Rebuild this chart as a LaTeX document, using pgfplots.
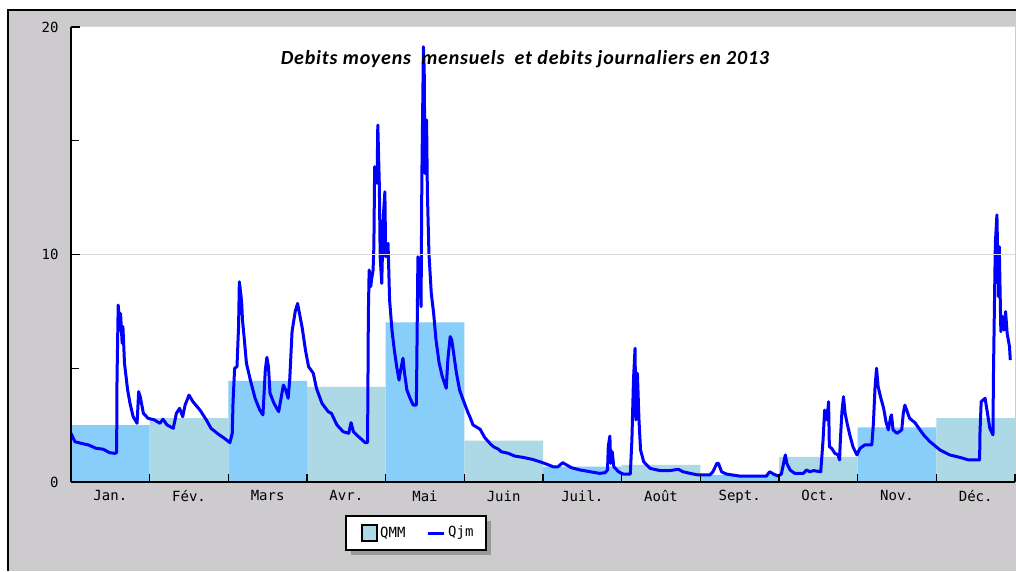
\documentclass[border=0pt]{standalone}
\usepackage{pgfplots}
\pgfplotsset{compat=1.18}
\usepackage{fontspec}
\setmainfont{DejaVu Sans Mono}
\newfontfamily\titlefont[LetterSpace=4]{Carlito}
\usetikzlibrary{shadows}
\definecolor{bggray}{RGB}{205,203,206}
\definecolor{qmmA}{RGB}{135,206,250}
\definecolor{qmmB}{RGB}{173,216,230}
\begin{document}
\begin{tikzpicture}[x=1pt,y=1pt]
\useasboundingbox (0,0) rectangle (1016,571);
\fill[white] (0,0) rectangle (1016,571);
\fill[bggray] (8,0) rectangle (1016,561);
\draw[black, line width=2pt] (8,0) -- (8,561) -- (1016,561);
\begin{axis}[
  at={(71pt,89pt)}, anchor=south west,
  width=944pt, height=455pt, scale only axis,
  xmin=0, xmax=12, ymin=0, ymax=20,
  axis x line*=bottom, axis y line*=left,
  axis line style={black, line width=1.5pt},
  axis background/.style={fill=white},
  axis on top,
  xtick={0.5,1.5,...,11.5},
  xticklabels={Jan., Fév., Mars, Avr., Mai, Juin, Juil., Août, Sept., Oct., Nov., Déc.},
  minor xtick={1,...,12},
  ytick={0,10,20}, minor ytick={5,15},
  major tick length=9pt, minor tick length=8pt,
  tick align=inside,
  major x tick style={draw=none},
  tick style={black, line width=1.5pt},
  ymajorgrids, major grid style={gray!30, line width=1pt},
  /pgf/number format/assume math mode=true,
  ticklabel style={font=\fontsize{14}{16}\selectfont},
  yticklabel style={xshift=-9pt},
  xticklabel style={yshift=-5pt},
]
\addplot[ybar interval, fill=qmmA, draw=none, forget plot] coordinates {(0,2.50) (1,0) (2,4.45) (3,0) (4,7.02) (5,0) (6,0.68) (7,0) (8,0.31) (9,0) (10,2.40) (11,0) (12,0)};
\addplot[ybar interval, fill=qmmB, draw=none, forget plot] coordinates {(0,0) (1,2.81) (2,0) (3,4.18) (4,0) (5,1.82) (6,0) (7,0.75) (8,0) (9,1.11) (10,0) (11,2.81) (12,0)};
\addplot[blue, line width=3pt, line join=round, forget plot] coordinates {
(0.00,2.14) (0.05,1.77) (0.13,1.70) (0.22,1.63) (0.32,1.48) (0.41,1.44) (0.49,1.29) (0.56,1.26) (0.58,1.30) (0.585,4.56) (0.60,7.78) (0.62,6.68) (0.63,7.41) (0.65,6.10) (0.66,6.83) (0.68,5.22) (0.72,4.04) (0.75,3.46) (0.79,2.87) (0.84,2.58) (0.86,3.97) (0.88,3.75) (0.92,3.02) (0.98,2.80) (1.06,2.73) (1.13,2.58) (1.17,2.76) (1.22,2.51) (1.30,2.36) (1.34,3.02) (1.38,3.24) (1.42,2.87) (1.45,3.38) (1.50,3.82) (1.55,3.53) (1.64,3.16) (1.72,2.73) (1.78,2.36) (1.87,2.11) (1.95,1.92) (2.02,1.73)
(2.05,2.14) (2.06,3.53) (2.08,5.00) (2.11,5.07) (2.13,6.83) (2.14,8.80) (2.16,8.22) (2.17,7.85) (2.18,7.12) (2.20,6.39) (2.23,5.22) (2.28,4.48) (2.34,3.68) (2.40,3.16) (2.44,2.95) (2.47,4.92) (2.49,5.48) (2.51,5.07) (2.53,3.90) (2.58,3.46) (2.64,3.09) (2.67,3.68) (2.70,4.26) (2.73,4.04) (2.76,3.68) (2.78,4.48) (2.81,6.61) (2.85,7.49) (2.88,7.85) (2.90,7.49) (2.94,6.76) (2.98,5.80) (3.02,5.07) (3.08,4.78) (3.12,4.12) (3.19,3.46) (3.27,3.09) (3.31,3.02) (3.38,2.51) (3.46,2.21) (3.53,2.14) (3.56,2.61) (3.59,2.21) (3.63,2.07) (3.74,1.73) (3.77,1.73)
(3.78,7.41) (3.79,9.32) (3.81,8.59) (3.82,8.88) (3.84,9.32) (3.85,10.34) (3.86,13.86) (3.89,13.13) (3.90,15.69) (3.92,12.98) (3.93,9.90) (3.95,8.73) (3.97,11.66) (3.99,12.76) (4.00,9.90) (4.03,10.49) (4.05,8.00) (4.08,6.68) (4.11,5.80) (4.14,5.07) (4.17,4.48) (4.19,4.92) (4.22,5.44) (4.24,4.78) (4.27,4.04) (4.31,3.68) (4.35,3.38) (4.39,3.38) (4.395,4.92) (4.41,9.90) (4.43,9.46) (4.45,7.71) (4.46,13.42) (4.48,19.13) (4.49,18.11) (4.50,13.57) (4.52,15.91) (4.53,12.76) (4.55,10.05) (4.58,8.29) (4.61,7.41) (4.64,6.24) (4.68,5.22) (4.72,4.63) (4.77,4.12) (4.79,5.36) (4.82,6.39) (4.84,6.24) (4.87,5.51) (4.90,4.78) (4.94,4.04) (4.97,3.75) (5.01,3.38) (5.05,3.02) (5.07,2.87) (5.11,2.51) (5.20,2.32) (5.26,1.95) (5.33,1.68) (5.37,1.55) (5.43,1.45) (5.47,1.33) (5.56,1.26) (5.64,1.14) (5.75,1.08) (5.87,0.99) (5.96,0.89)
(6.05,0.78) (6.13,0.67) (6.19,0.67) (6.25,0.85) (6.30,0.75) (6.36,0.63) (6.47,0.53) (6.60,0.45) (6.72,0.38) (6.79,0.41) (6.82,0.53) (6.83,1.58) (6.85,2.02) (6.86,0.82) (6.88,1.33) (6.90,0.67) (6.96,0.45) (7.02,0.35) (7.11,0.35) (7.13,1.85) (7.15,4.48) (7.17,5.88) (7.18,2.73) (7.20,4.78) (7.22,2.73) (7.24,1.41) (7.28,0.89) (7.36,0.60) (7.49,0.50) (7.61,0.50) (7.72,0.56) (7.78,0.45) (7.87,0.38) (7.97,0.31)
(8.12,0.31) (8.16,0.45) (8.21,0.82) (8.23,0.82) (8.27,0.45) (8.33,0.35) (8.50,0.26) (8.67,0.26) (8.84,0.26) (8.88,0.45) (8.93,0.35) (8.99,0.26) (9.03,0.35) (9.08,1.19) (9.10,0.82) (9.14,0.53) (9.20,0.38) (9.31,0.38) (9.35,0.53) (9.39,0.45) (9.44,0.50) (9.53,0.45) (9.54,0.89) (9.56,1.85) (9.58,3.16) (9.61,2.73) (9.63,3.53) (9.64,1.55) (9.67,1.48) (9.71,1.26) (9.75,1.19) (9.77,0.97) (9.78,1.85) (9.80,3.09) (9.82,3.75) (9.84,3.02) (9.87,2.51) (9.90,2.07) (9.94,1.55) (9.99,1.19)
(10.03,1.48) (10.09,1.63) (10.18,1.63) (10.20,2.58) (10.22,4.12) (10.24,5.00) (10.26,4.19) (10.29,3.75) (10.33,3.24) (10.36,2.65) (10.39,2.29) (10.42,2.87) (10.43,2.95) (10.45,2.29) (10.50,2.14) (10.56,2.29) (10.58,3.02) (10.60,3.38) (10.63,3.09) (10.66,2.80) (10.73,2.60) (10.79,2.30) (10.85,2.02) (10.92,1.77) (10.98,1.60) (11.05,1.40) (11.17,1.19) (11.30,1.08) (11.41,0.97) (11.55,0.97) (11.555,2.21) (11.57,3.53) (11.62,3.68) (11.65,3.02) (11.68,2.36) (11.72,2.07) (11.725,4.48) (11.74,8.15) (11.75,10.49) (11.77,11.74) (11.79,8.15) (11.80,10.34) (11.82,6.61) (11.84,7.27) (11.86,6.68) (11.88,7.49) (11.90,6.54) (11.93,5.95) (11.94,5.36)
};
\draw[gray!35, line width=1pt] (rel axis cs:1,0) -- (rel axis cs:1,1);
\end{axis}
\node[font=\titlefont\bfseries\itshape\fontsize{20}{24}\selectfont] at (525,512) {Debits moyens\hspace{5pt} mensuels\hspace{5pt} et debits journaliers en 2013};
% legend
\node[draw=black, line width=1.5pt, fill=white, inner sep=0pt, minimum width=140pt, minimum height=34pt,
  drop shadow={shadow xshift=5pt, shadow yshift=-5pt, fill=black!40, opacity=1}] at (416,38) {};
\draw[fill=qmmB, draw=black, line width=1.2pt] (362,30) rectangle (377,46);
\node[anchor=west, inner sep=0pt, font=\fontsize{14}{16}\selectfont] at (380,38) {QMM};
\draw[blue, line width=3pt] (428,38) -- (444,38);
\node[anchor=west, inner sep=0pt, font=\fontsize{14}{16}\selectfont] at (448,38) {Qjm};
\end{tikzpicture}
\end{document}
